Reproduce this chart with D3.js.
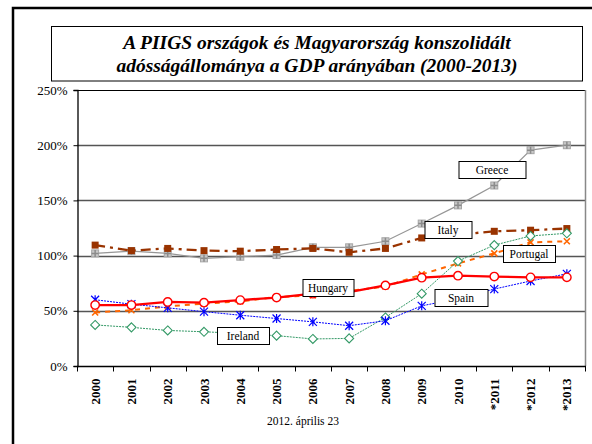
<!DOCTYPE html>
<html>
<head>
<meta charset="utf-8">
<script src="https://cdn.jsdelivr.net/npm/d3@7"></script>
<style>
  body { margin: 0; background: #fff; }
  text { font-family: "Liberation Serif", "Times New Roman", serif; }
</style>
</head>
<body>
<div id="chart"></div>
<script>
// categories and series (debt as share of GDP)
const years = ["2000","2001","2002","2003","2004","2005","2006","2007","2008","2009","2010","*2011","*2012","*2013"];
const greece   = [1.02,1.04,1.02,0.975,0.99,1.005,1.075,1.075,1.13,1.29,1.455,1.635,1.955,2.0];
const italy    = [1.095,1.045,1.065,1.045,1.04,1.055,1.065,1.03,1.065,1.16,1.19,1.22,1.23,1.245];
const portugal = [0.485,0.505,0.54,0.565,0.585,0.625,0.64,0.68,0.72,0.83,0.93,1.02,1.12,1.13];
const hungary  = [0.552,0.552,0.58,0.574,0.597,0.62,0.655,0.67,0.73,0.80,0.818,0.81,0.803,0.803];
const spain    = [0.60,0.56,0.527,0.492,0.46,0.43,0.40,0.365,0.41,0.545,0.61,0.697,0.77,0.835];
const ireland  = [0.372,0.35,0.322,0.31,0.295,0.275,0.245,0.25,0.44,0.655,0.95,1.095,1.178,1.202];
const yTicks   = [0, 0.5, 1, 1.5, 2, 2.5];

const width = 592, height = 444;
const plotL = 77, plotR = 585, plotT = 90, plotB = 366;

const svg = d3.select("#chart").append("svg")
  .attr("width", width).attr("height", height);

// outer frame (only left and top edges are on the page)
svg.append("rect")
  .attr("x", 13).attr("y", 8).attr("width", 620).attr("height", 480)
  .attr("fill", "none").attr("stroke", "#000").attr("stroke-width", 2.5);

// title box
svg.append("rect")
  .attr("x", 51.5).attr("y", 26.5).attr("width", 531).attr("height", 54.5)
  .attr("fill", "#fff").attr("stroke", "#000").attr("stroke-width", 1);
const title = svg.append("text")
  .attr("text-anchor", "middle")
  .style("font-weight", "bold").style("font-style", "italic").style("font-size", "19.5px");
title.append("tspan").attr("x", 317).attr("y", 49).text("A PIIGS országok és Magyarország konszolidált");
title.append("tspan").attr("x", 317).attr("y", 72).text("adósságállománya a GDP arányában (2000-2013)");

const x = d3.scaleBand().domain(years).range([plotL, plotR]).padding(0);
const xi = d3.scaleLinear().domain([0, years.length]).range([plotL, plotR]);
const y = d3.scaleLinear().domain([0, 2.5]).range([plotB, plotT]);
const cx = d => x(d) + x.bandwidth() / 2;

// gridlines
svg.append("g").selectAll("line")
  .data(yTicks.filter(t => t > 0 && t < 2.5))
  .join("line")
  .attr("x1", plotL).attr("x2", plotR)
  .attr("y1", d => Math.round(y(d)) + 0.5).attr("y2", d => Math.round(y(d)) + 0.5)
  .attr("stroke", "#555").attr("stroke-width", 1.3);

// plot frame
svg.append("line").attr("x1", plotL).attr("x2", plotR).attr("y1", plotT + 0.5).attr("y2", plotT + 0.5)
  .attr("stroke", "#000");
svg.append("line").attr("x1", plotR + 0.5).attr("x2", plotR + 0.5).attr("y1", plotT).attr("y2", plotB)
  .attr("stroke", "#888").attr("stroke-width", 1.5);

// y axis
const yAxis = svg.append("g")
  .attr("transform", `translate(${plotL + 0.5},0)`)
  .call(d3.axisLeft(y).tickValues(yTicks).tickSize(4).tickPadding(6).tickFormat(d3.format(".0%")));
yAxis.select(".domain").attr("stroke", "#000").attr("stroke-width", 1.3);
yAxis.selectAll("text").style("font-size", "13px").attr("font-family", null).attr("fill", "#000");

// x axis
const xAxis = svg.append("g").attr("transform", `translate(0,${plotB + 0.5})`);
xAxis.append("line").attr("x1", plotL).attr("x2", plotR + 1).attr("stroke", "#000").attr("stroke-width", 1.3);
xAxis.selectAll("line.tick")
  .data(d3.range(years.length + 1))
  .join("line").attr("class", "tick")
  .attr("x1", d => Math.round(xi(d)) + 0.5).attr("x2", d => Math.round(xi(d)) + 0.5)
  .attr("y1", 0).attr("y2", 5).attr("stroke", "#000");
xAxis.selectAll("text")
  .data(years)
  .join("text")
  .attr("transform", d => `translate(${cx(d) + 4.5},12) rotate(-90)`)
  .attr("text-anchor", "end")
  .style("font-size", "13px").style("font-weight", "bold")
  .text(d => d);

// series
const series = [
  { name: "Greece",   values: greece,   color: "#969696", width: 1.2, dash: null,        marker: "plussq", mcolor: "#a6a6a6" },
  { name: "Italy",    values: italy,    color: "#993300", width: 2.3, dash: "10,5,3,5",  marker: "square", mcolor: "#993300" },
  { name: "Portugal", values: portugal, color: "#ff6600", width: 2,   dash: "5,5",       marker: "x",      mcolor: "#ff6600" },
  { name: "Ireland",  values: ireland,  color: "#339966", width: 1,   dash: "2,1",       marker: "diamond",mcolor: "#339966" },
  { name: "Spain",    values: spain,    color: "#0000ff", width: 1,   dash: "2,1",       marker: "star",   mcolor: "#0000ff" },
  { name: "Hungary",  values: hungary,  color: "#ff0000", width: 2.3, dash: null,        marker: "circle", mcolor: "#ff0000" }
];

const line = d3.line().x((d, i) => cx(years[i])).y(d => y(d));

series.forEach(s => {
  const g = svg.append("g");
  g.append("path")
    .attr("d", line(s.values))
    .attr("fill", "none")
    .attr("stroke", s.color)
    .attr("stroke-width", s.width)
    .attr("stroke-dasharray", s.dash);
  const m = g.selectAll("g.m").data(s.values).join("g")
    .attr("transform", (d, i) => `translate(${cx(years[i])},${y(d)})`);
  if (s.marker === "plussq") {
    m.append("rect").attr("x", -3.5).attr("y", -3.5).attr("width", 7).attr("height", 7)
      .attr("fill", "#c8c8c8").attr("stroke", s.mcolor);
    m.append("path").attr("d", "M-3.5,0H3.5M0,-3.5V3.5").attr("stroke", "#8c8c8c").attr("stroke-width", 1.5);
  } else if (s.marker === "square") {
    m.append("rect").attr("x", -3.5).attr("y", -3.5).attr("width", 7).attr("height", 7).attr("fill", s.mcolor);
  } else if (s.marker === "x") {
    m.append("path").attr("d", "M-3,-3L3,3M-3,3L3,-3").attr("stroke", s.mcolor).attr("stroke-width", 1.6);
  } else if (s.marker === "diamond") {
    m.append("path").attr("d", "M0,-4.5L4.5,0L0,4.5L-4.5,0Z").attr("fill", "#fff").attr("stroke", s.mcolor).attr("stroke-width", 1.1);
  } else if (s.marker === "star") {
    m.append("path").attr("d", "M-4,-4L4,4M-4,4L4,-4M0,-4.5V4.5").attr("stroke", s.mcolor).attr("stroke-width", 1.2);
  } else if (s.marker === "circle") {
    m.append("circle").attr("r", 4.2).attr("fill", "#fff").attr("stroke", s.mcolor).attr("stroke-width", 1.4);
  }
});

// series name boxes, placed in data coordinates
const labelPlaces = [
  { name: "Greece",   at: 11.45, v: 1.771, w: 67 },
  { name: "Italy",    at: 10.23, v: 1.232, w: 47 },
  { name: "Portugal", at: 12.46, v: 1.014, w: 52 },
  { name: "Hungary",  at: 6.93,  v: 0.711, w: 51 },
  { name: "Spain",    at: 10.57, v: 0.620, w: 53 },
  { name: "Ireland",  at: 4.57,  v: 0.276, w: 52 }
];
const lab = svg.append("g").selectAll("g").data(labelPlaces).join("g")
  .attr("transform", d => `translate(${Math.round(xi(d.at))},${Math.round(y(d.v))})`);
lab.append("rect")
  .attr("x", d => -d.w / 2 + 0.5).attr("y", -8.5).attr("width", d => d.w).attr("height", 17)
  .attr("fill", "#fff").attr("stroke", "#000").attr("stroke-width", 1);
lab.append("text")
  .attr("text-anchor", "middle").attr("y", 4)
  .style("font-size", "11.5px")
  .text(d => d.name);

// date footer
svg.append("text")
  .attr("x", 303).attr("y", 425).attr("text-anchor", "middle")
  .style("font-size", "11.5px")
  .text("2012. április 23");
</script>
</body>
</html>
